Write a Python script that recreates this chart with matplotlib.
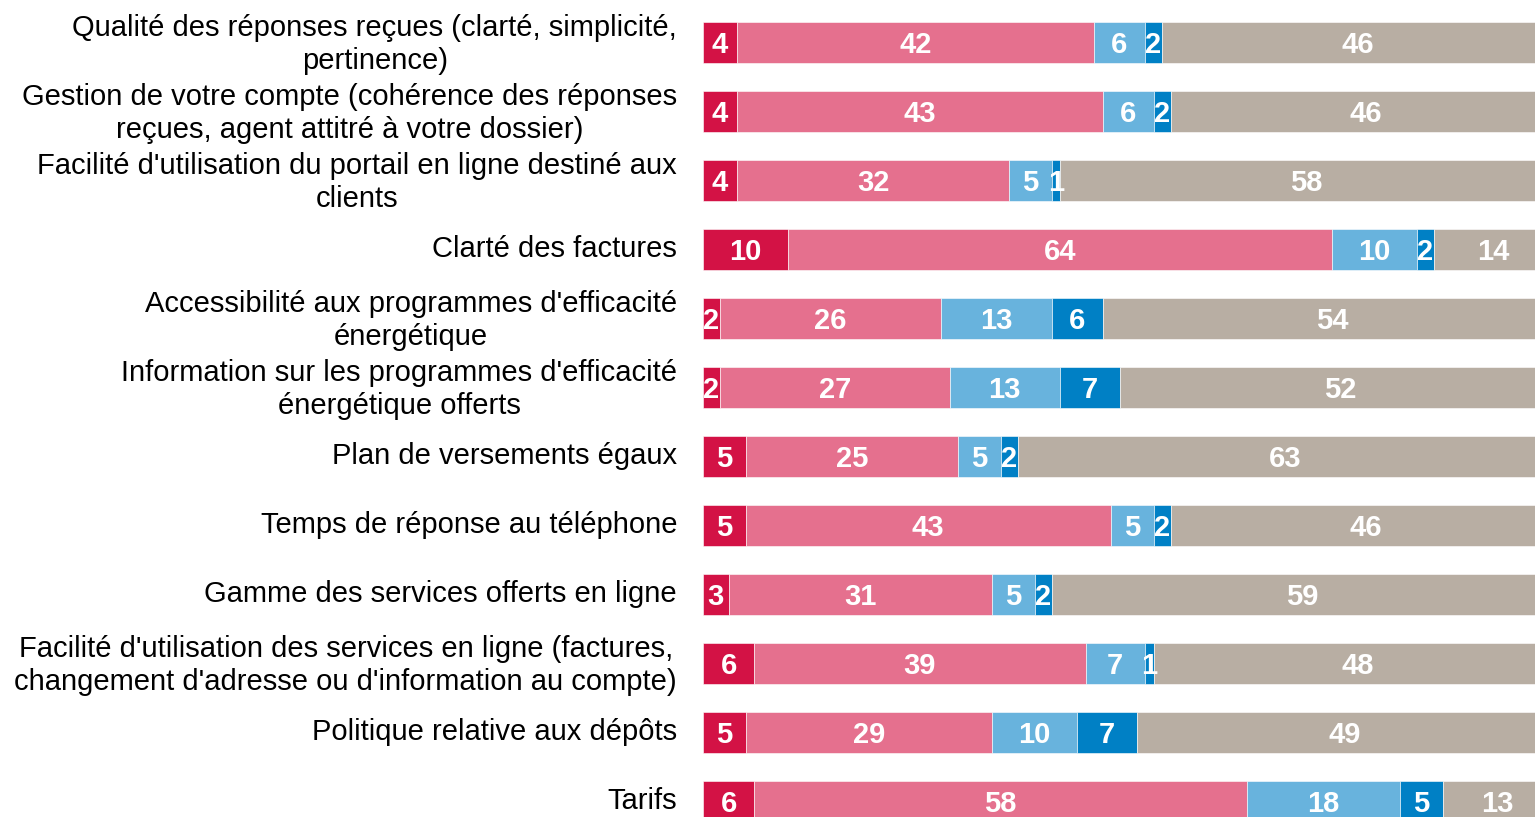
import matplotlib.pyplot as plt
import matplotlib.transforms as mtransforms
import numpy as np

plt.rcParams['font.family'] = ['Liberation Sans', 'DejaVu Sans']

categories = [
    "Qualité des réponses reçues (clarté, simplicité,\npertinence)",
    "Gestion de votre compte (cohérence des réponses\nreçues, agent attitré à votre dossier)",
    "Facilité d'utilisation du portail en ligne destiné aux\nclients",
    "Clarté des factures",
    "Accessibilité aux programmes d'efficacité\nénergétique",
    "Information sur les programmes d'efficacité\nénergétique offerts",
    "Plan de versements égaux",
    "Temps de réponse au téléphone",
    "Gamme des services offerts en ligne",
    "Facilité d'utilisation des services en ligne (factures,\nchangement d'adresse ou d'information au compte)",
    "Politique relative aux dépôts",
    "Tarifs",
]

# five answer groups, left to right
tres_insat = [4, 4, 4, 10, 2, 2, 5, 5, 3, 6, 5, 6]
insat = [42, 43, 32, 64, 26, 27, 25, 43, 31, 39, 29, 58]
satisf = [6, 6, 5, 10, 13, 13, 5, 5, 5, 7, 10, 18]
tres_satisf = [2, 2, 1, 2, 6, 7, 2, 2, 2, 1, 7, 5]
nsp = [46, 46, 58, 14, 54, 52, 63, 46, 59, 48, 49, 13]

colors = ["#D31245", "#E5708E", "#68B3DD", "#0080C5", "#B8AEA3"]

series = [tres_insat, insat, satisf, tres_satisf, nsp]

fig = plt.figure(figsize=(15.35, 8.17), dpi=100)
# the 100% scale runs a bit past the right edge of the picture (cropped)
ax = fig.add_axes([703 / 1535, 0, 850 / 1535, 1])

y = np.arange(len(categories))
left = np.zeros(len(categories))
for k, vals in enumerate(series):
    vals = np.array(vals, dtype=float)
    ax.barh(y, vals, left=left, height=0.6, color=colors[k],
            edgecolor="white", linewidth=0.4, clip_on=False)
    for i in range(len(categories)):
        ax.text(left[i] + vals[i] / 2, y[i] + 0.04, f"{int(vals[i])}",
                ha="center", va="center", color="white",
                fontsize=21, fontweight="bold")
    left += vals

ax.set_xlim(0, 100)
ax.set_ylim(11 + 15.75 / 69, -42.25 / 69)
ax.set_xticks([])
ax.set_yticks(y)
ax.tick_params(axis="y", length=0, pad=18.7)
ax.set_yticklabels(categories, fontsize=21)
# nudge the category labels up a few pixels
shift = mtransforms.ScaledTranslation(0, 0.03, fig.dpi_scale_trans)
for tick in ax.yaxis.get_major_ticks():
    tick.label1.set_multialignment("center")
    tick.label1.set_transform(tick.label1.get_transform() + shift)
for s in ax.spines.values():
    s.set_visible(False)

fig.savefig("out.png", dpi=100)
